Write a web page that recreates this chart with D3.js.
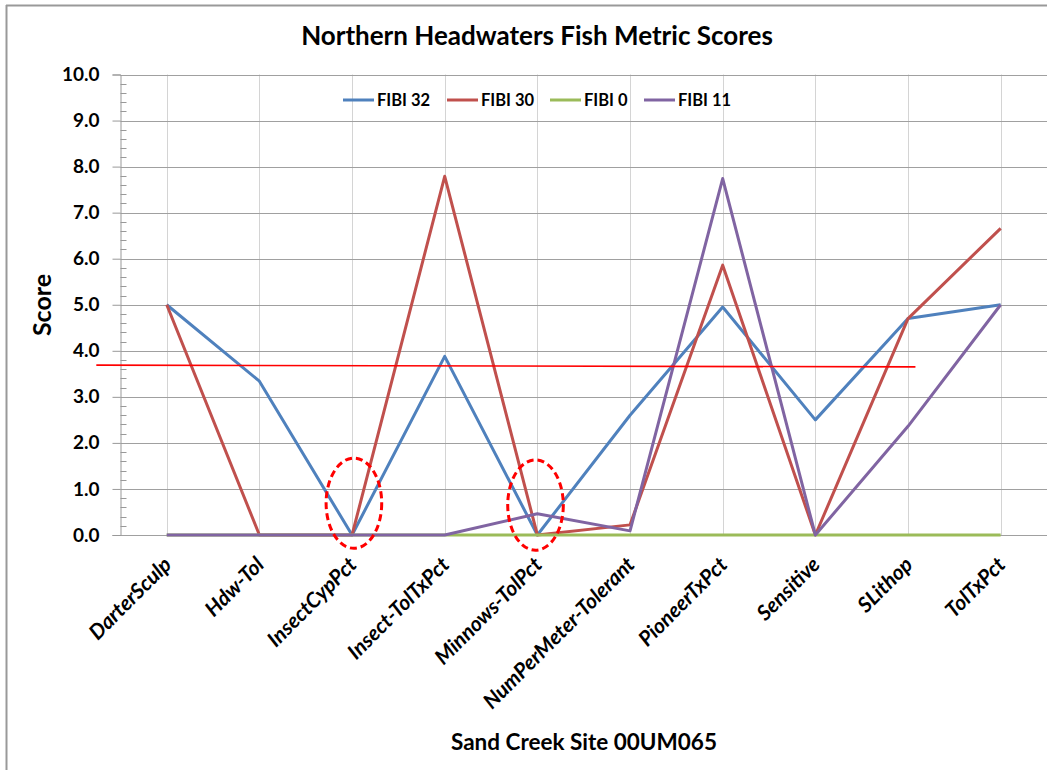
<!DOCTYPE html>
<html>
<head>
<meta charset="utf-8">
<script src="https://cdn.jsdelivr.net/npm/d3@7"></script>
<style>
  html, body { margin: 0; padding: 0; background: #fff; }
  svg { display: block; }
  text { font-family: Lato, "Open Sans", "Liberation Sans", sans-serif; font-weight: bold; fill: #000; }
</style>
</head>
<body>
<svg id="chart" width="1056" height="770"></svg>
<script>
// ---- data ----
const categories = ["DarterSculp", "Hdw-Tol", "InsectCypPct", "Insect-TolTxPct", "Minnows-TolPct",
  "NumPerMeter-Tolerant", "PioneerTxPct", "Sensitive", "SLithop", "TolTxPct"];
const seriesNames = ["FIBI 32", "FIBI 30", "FIBI 0", "FIBI 11"];
const fibi32 = [5.0, 3.34, 0, 3.88, 0, 2.6, 4.95, 2.5, 4.7, 5.0];
const fibi30 = [5.0, 0, 0, 7.79, 0, 0.22, 5.86, 0, 4.7, 6.66];
const fibi0  = [0, 0, 0, 0, 0, 0, 0, 0, 0, 0];
const fibi11 = [0, 0, 0, 0, 0.46, 0.09, 7.74, 0, 2.36, 5.0];
const yTicks = [0, 1, 2, 3, 4, 5, 6, 7, 8, 9, 10];
// hand-drawn threshold line (value at start and end, in category-index units for extent)
const refLineValues = [3.69, 3.65];
const refLineIndexExtent = [-0.76, 8.08];
// hand-drawn dashed ellipses (category, centre value, half-width in categories, half-height in score)
const ellipseCats = ["InsectCypPct", "Minnows-TolPct"];
const ellipseCenterValues = [0.69, 0.65];
const ellipseIdxOffsets = [0.02, -0.02];
const ellipseRx = 0.3;
const ellipseRy = 0.98;

const colors = ["#4F81BD", "#C0504D", "#9BBB59", "#8064A2"];
const seriesValues = [fibi32, fibi30, fibi0, fibi11];

// ---- layout ----
const svg = d3.select("#chart");
const plot = { left: 120.4, right: 1047, top: 74.5, bottom: 535 };

const x = d3.scalePoint().domain(categories).range([plot.left, plot.right]).padding(0.5);
const xIdx = d3.scaleLinear().domain([0, categories.length - 1])
  .range([x(categories[0]), x(categories[categories.length - 1])]);
const y = d3.scaleLinear().domain([0, 10]).range([plot.bottom, plot.top]);

// outer frame (top and left visible)
svg.append("line").attr("x1", 6).attr("x2", 1047).attr("y1", 5.5).attr("y2", 5.5)
  .attr("stroke", "#999").attr("stroke-width", 2);
svg.append("line").attr("x1", 6.5).attr("x2", 6.5).attr("y1", 5).attr("y2", 770)
  .attr("stroke", "#999").attr("stroke-width", 2);

// title
svg.append("text").attr("x", 537).attr("y", 45).attr("text-anchor", "middle")
  .style("font-size", "26px").text("Northern Headwaters Fish Metric Scores");

// vertical category gridlines
svg.append("g").selectAll("line").data(categories).join("line")
  .attr("x1", d => Math.round(x(d)) + 0.5).attr("x2", d => Math.round(x(d)) + 0.5)
  .attr("y1", plot.top).attr("y2", plot.bottom)
  .attr("stroke", "#d4d4d4").attr("stroke-width", 1);

// horizontal gridlines
svg.append("g").selectAll("line").data(yTicks).join("line")
  .attr("x1", plot.left).attr("x2", plot.right)
  .attr("y1", d => Math.round(y(d)) + 0.5).attr("y2", d => Math.round(y(d)) + 0.5)
  .attr("stroke", "#a0a0a0").attr("stroke-width", 1);

// y axis
const yAxis = d3.axisLeft(y).tickValues(yTicks).tickFormat(d3.format(".1f")).tickSize(8).tickPadding(13);
const gy = svg.append("g").attr("transform", `translate(${Math.round(plot.left) + 0.5},0)`).call(yAxis);
gy.select(".domain").attr("stroke", "#999");
gy.selectAll(".tick line").attr("stroke", "#999");
gy.selectAll(".tick text").style("font-size", "19px").style("font-family", "Lato, sans-serif").style("font-weight", "bold");
// minor ticks inside
const minor = d3.range(0, 10.0001, 0.2).filter(v => Math.abs(v - Math.round(v)) > 1e-6);
svg.append("g").selectAll("line").data(minor).join("line")
  .attr("x1", Math.round(plot.left) + 0.5).attr("x2", Math.round(plot.left) + 6.5)
  .attr("y1", d => Math.round(y(d)) + 0.5).attr("y2", d => Math.round(y(d)) + 0.5)
  .attr("stroke", "#999");

// y title
svg.append("text").attr("transform", `translate(51,305) rotate(-90)`).attr("text-anchor", "middle")
  .style("font-size", "25px").text("Score");

// x category labels
svg.append("g").selectAll("text").data(categories).join("text")
  .attr("transform", d => `translate(${x(d) + 6},${566}) rotate(-45)`)
  .attr("text-anchor", "end")
  .style("font-size", "21px").style("font-style", "italic")
  .text(d => d);

// x title
svg.append("text").attr("x", 584).attr("y", 750).attr("text-anchor", "middle")
  .style("font-size", "22.5px").text("Sand Creek Site 00UM065");

// series lines
const line = d3.line().x((d, i) => x(categories[i])).y(d => y(d));
svg.append("g").selectAll("path").data(seriesValues).join("path")
  .attr("d", d => line(d))
  .attr("fill", "none")
  .attr("stroke", (d, i) => colors[i])
  .attr("stroke-width", 3)
  .attr("stroke-linejoin", "round");

// threshold line
svg.append("line")
  .attr("x1", xIdx(refLineIndexExtent[0])).attr("x2", xIdx(refLineIndexExtent[1]))
  .attr("y1", y(refLineValues[0])).attr("y2", y(refLineValues[1]))
  .attr("stroke", "#FF0000").attr("stroke-width", 1.6);

// dashed ellipses
const catStep = x.step();
svg.append("g").selectAll("ellipse").data(ellipseCats).join("ellipse")
  .attr("cx", (d, i) => x(d) + ellipseIdxOffsets[i] * catStep)
  .attr("cy", (d, i) => y(ellipseCenterValues[i]))
  .attr("rx", ellipseRx * catStep)
  .attr("ry", y(0) - y(ellipseRy))
  .attr("fill", "none").attr("stroke", "#FF0000").attr("stroke-width", 3)
  .attr("stroke-dasharray", "7,4");

// legend
const legendX = [343, 447, 550, 644];
const lg = svg.append("g").selectAll("g").data(seriesNames).join("g")
  .attr("transform", (d, i) => `translate(${legendX[i]},100)`);
lg.append("line").attr("x1", 0).attr("x2", 31).attr("y1", 0).attr("y2", 0)
  .attr("stroke", (d, i) => colors[i]).attr("stroke-width", 3);
lg.append("text").attr("x", 34).attr("y", 6).style("font-size", "16.5px").text(d => d);
</script>
</body>
</html>
